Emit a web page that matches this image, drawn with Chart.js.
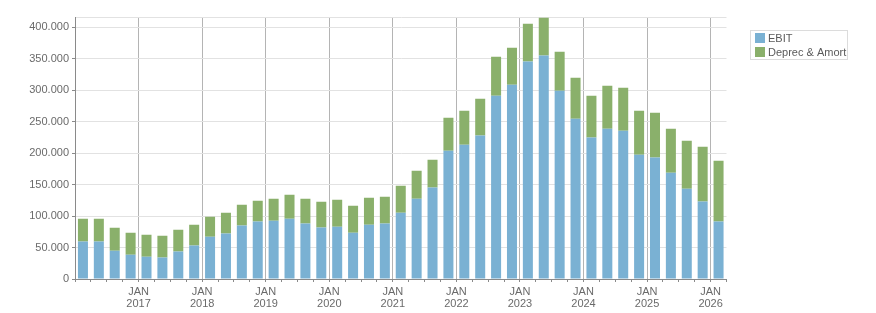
<!DOCTYPE html>
<html>
<head>
<meta charset="utf-8">
<script src="https://cdn.jsdelivr.net/npm/chart.js@4/dist/chart.umd.min.js"></script>
<style>
  html, body { margin: 0; padding: 0; background: #fff; }
  canvas { display: block; }
</style>
</head>
<body>
<canvas id="grafico" width="876" height="313"></canvas>
<script>
// trimestres Q1 2016 .. Q1 2026
const trimestres = [
    '2016-Q1', '2016-Q2', '2016-Q3', '2016-Q4',
    '2017-Q1', '2017-Q2', '2017-Q3', '2017-Q4',
    '2018-Q1', '2018-Q2', '2018-Q3', '2018-Q4',
    '2019-Q1', '2019-Q2', '2019-Q3', '2019-Q4',
    '2020-Q1', '2020-Q2', '2020-Q3', '2020-Q4',
    '2021-Q1', '2021-Q2', '2021-Q3', '2021-Q4',
    '2022-Q1', '2022-Q2', '2022-Q3', '2022-Q4',
    '2023-Q1', '2023-Q2', '2023-Q3', '2023-Q4',
    '2024-Q1', '2024-Q2', '2024-Q3', '2024-Q4',
    '2025-Q1', '2025-Q2', '2025-Q3', '2025-Q4',
    '2026-Q1'
];

const ebit = [
    59700, 59700, 44900, 38600,
    35400, 34300, 43800, 53300,
    67100, 72400, 85100, 91400,
    92500, 95700, 88300, 81900,
    83000, 73500, 86200, 88300,
    105200, 127500, 145400, 203700,
    213200, 228000, 291000, 308400,
    345400, 354900, 298900, 254400,
    224800, 238600, 235400, 197300,
    193000, 168700, 143300, 123200,
    91400
];

const deprecAmort = [
    36000, 36000, 36500, 34900,
    34900, 34400, 34500, 32900,
    31800, 32800, 32800, 32900,
    35000, 38100, 39200, 40800,
    42900, 42800, 42800, 42300,
    42900, 44400, 44000, 52300,
    53900, 58200, 61900, 58700,
    59800, 59900, 61900, 65100,
    66200, 68200, 68300, 69800,
    70900, 69900, 76200, 86800,
    96400
];

const yTicks = [0, 50000, 100000, 150000, 200000, 250000, 300000, 350000, 400000];
const yMax = 416000;

const colorEbit = '#7ab1d3';
const colorDeprec = '#8ab06b';

const formatoMiles = v => String(v).replace(/\B(?=(\d{3})+(?!\d))/g, '.');

const leyendaCaja = {
    id: 'leyendaCaja',
    afterDraw(chart) {
        const ctx = chart.ctx;
        ctx.save();
        ctx.strokeStyle = '#dcdcdc';
        ctx.lineWidth = 1;
        ctx.strokeRect(750.5, 30.5, 97, 29);
        ctx.font = '11px "Liberation Sans", Arial, sans-serif';
        ctx.textBaseline = 'middle';
        chart.data.datasets.forEach((ds, i) => {
            const y = 33 + i * 14;
            ctx.fillStyle = ds.backgroundColor;
            ctx.fillRect(755, y, 10, 10);
            ctx.fillStyle = '#5a5a5a';
            ctx.fillText(ds.label, 768, y + 5.5);
        });
        ctx.restore();
    }
};

new Chart(document.getElementById('grafico'), {
    type: 'bar',
    data: {
        labels: trimestres,
        datasets: [
            { label: 'EBIT', data: ebit, backgroundColor: colorEbit },
            { label: 'Deprec & Amort', data: deprecAmort, backgroundColor: colorDeprec }
        ]
    },
    options: {
        responsive: false,
        devicePixelRatio: 1,
        animation: false,
        layout: { padding: { left: 0, top: 17, right: 149.5, bottom: 0 } },
        datasets: { bar: { barPercentage: 0.63, categoryPercentage: 1 } },
        plugins: {
            legend: { display: false },
            tooltip: { enabled: false }
        },
        scales: {
            x: {
                stacked: true,
                offset: true,
                afterFit: s => { s.height = 34; },
                border: { color: '#8a8a8a' },
                grid: {
                    offset: true,
                    tickLength: 3,
                    tickColor: '#8a8a8a',
                    color: c => (c.index > 0 && c.index < trimestres.length && c.index % 4 === 0) ? '#b4b4b4' : 'rgba(0,0,0,0)'
                },
                ticks: {
                    autoSkip: false,
                    maxRotation: 0,
                    padding: 4,
                    labelOffset: -7.93,
                    color: '#6a6a6a',
                    font: { family: '"Liberation Sans", Arial, sans-serif', size: 11, lineHeight: 1.1 },
                    callback: function (value, index) {
                        if (index === 0 || index % 4 !== 0) return '';
                        return ['JAN', trimestres[index].slice(0, 4)];
                    }
                }
            },
            y: {
                stacked: true,
                min: 0,
                max: yMax,
                afterFit: s => { s.width = 75; },
                afterBuildTicks: s => {
                    s.ticks = yTicks.map(v => ({ value: v })).concat([{ value: yMax }]);
                },
                border: { color: '#8a8a8a' },
                grid: {
                    tickLength: 3,
                    color: '#e2e2e2',
                    tickColor: c => (c.tick && c.tick.value === yMax) ? 'rgba(0,0,0,0)' : '#8a8a8a'
                },
                ticks: {
                    padding: 3,
                    color: '#6a6a6a',
                    font: { family: '"Liberation Sans", Arial, sans-serif', size: 11 },
                    callback: v => (yTicks.includes(v) ? formatoMiles(v) : '')
                }
            }
        }
    },
    plugins: [leyendaCaja]
});
</script>
</body>
</html>
